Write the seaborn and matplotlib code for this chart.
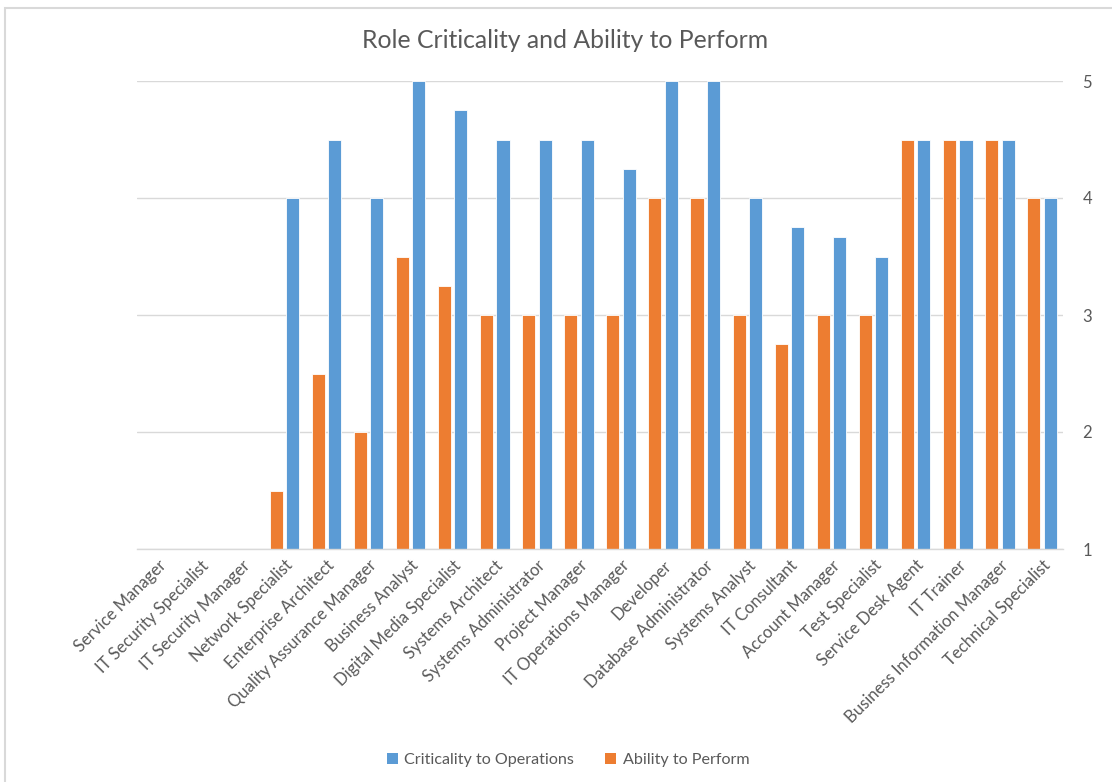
import numpy as np
import pandas as pd
import matplotlib
matplotlib.use("Agg")
import matplotlib.pyplot as plt
import seaborn as sns
from matplotlib.patches import Rectangle, Patch

roles = ["Service Manager", "IT Security Specialist", "IT Security Manager",
         "Network Specialist", "Enterprise Architect", "Quality Assurance Manager",
         "Business Analyst", "Digital Media Specialist", "Systems Architect",
         "Systems Administrator", "Project Manager", "IT Operations Manager",
         "Developer", "Database Administrator", "Systems Analyst", "IT Consultant",
         "Account Manager", "Test Specialist", "Service Desk Agent", "IT Trainer",
         "Business Information Manager", "Technical Specialist"]
criticality = [np.nan, np.nan, np.nan, 4, 4.5, 4, 5, 4.75, 4.5, 4.5, 4.5, 4.25,
               5, 5, 4, 3.75, 3.67, 3.5, 4.5, 4.5, 4.5, 4]
ability = [np.nan, np.nan, np.nan, 1.5, 2.5, 2, 3.5, 3.25, 3, 3, 3, 3,
           4, 4, 3, 2.75, 3, 3, 4.5, 4.5, 4.5, 4]
series_names = ["Criticality to Operations", "Ability to Perform"]
y_ticks = [1, 2, 3, 4, 5]

blue = "#5B9BD5"
orange = "#ED7D31"
grey_txt = "#595959"

df = pd.DataFrame({
    "Role": roles * 2,
    "Score": criticality + ability,
    "Series": [series_names[0]] * len(roles) + [series_names[1]] * len(roles),
})

sns.set_theme(style="white")
plt.rcParams["font.family"] = ["Lato", "DejaVu Sans"]

fig = plt.figure(figsize=(11.12, 7.82), dpi=100)
ax = fig.add_axes([137 / 1112, 1 - 549 / 782, (1063 - 137) / 1112, (549 - 81) / 782])

sns.barplot(data=df, x="Role", y="Score", hue="Series",
            hue_order=[series_names[1], series_names[0]],
            palette={series_names[0]: blue, series_names[1]: orange},
            order=roles, width=0.78, gap=0.2, ax=ax, legend=False,
            saturation=1, edgecolor="white", linewidth=0.6, errorbar=None)

ax.set_ylim(1, 5)
ax.set_yticks(y_ticks)
ax.yaxis.tick_right()
ax.set_xlim(-0.5, len(roles) - 0.5)
ax.grid(axis="y", color="#D9D9D9", linewidth=1)
ax.set_axisbelow(True)
for s in ["top", "left", "right"]:
    ax.spines[s].set_visible(False)
ax.spines["bottom"].set_color("#D9D9D9")
ax.spines["bottom"].set_linewidth(1)
ax.tick_params(axis="y", length=0, labelsize=12, labelcolor=grey_txt, pad=14)
ax.tick_params(axis="x", length=0, labelsize=12, labelcolor=grey_txt, pad=6)
ax.set_xlabel("")
ax.set_ylabel("")
plt.setp(ax.get_xticklabels(), rotation=45, ha="right", rotation_mode="anchor")

fig.text(565 / 1112, 1 - 40 / 782, "Role Criticality and Ability to Perform",
         ha="center", va="center", fontsize=17.8, color=grey_txt)

handles = [Patch(facecolor=blue, edgecolor="none"), Patch(facecolor=orange, edgecolor="none")]
fig.legend(handles, series_names, loc="center", bbox_to_anchor=(568 / 1112, 1 - 760 / 782),
           ncol=2, frameon=False, fontsize=11.6, labelcolor=grey_txt,
           handlelength=0.7, handleheight=0.7, handletextpad=0.4, columnspacing=1.9)

fig.patches.append(Rectangle((5 / 1112, -0.1), 1.2, 1 - 8 / 782 + 0.1,
                             transform=fig.transFigure, fill=False,
                             edgecolor="#D9D9D9", linewidth=1.5))

fig.savefig("out.png", dpi=100, facecolor="white")
